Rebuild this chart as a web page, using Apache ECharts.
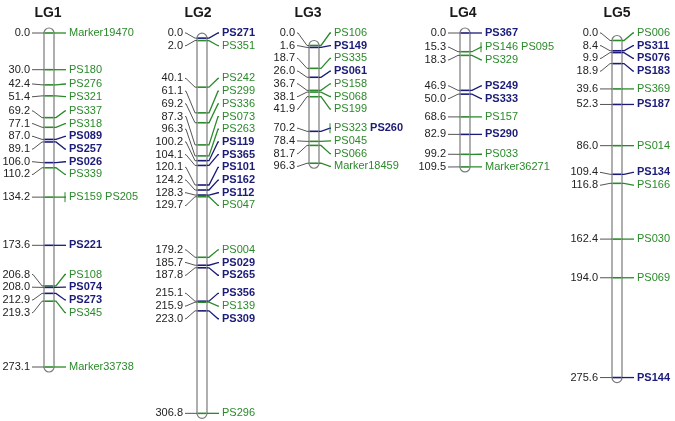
<!DOCTYPE html>
<html><head><meta charset="utf-8">
<script src="https://cdn.jsdelivr.net/npm/echarts@6/dist/echarts.min.js"></script>
<style>html,body{margin:0;padding:0;background:#fff;}#c{width:675px;height:421px;}</style>
</head><body><div id="c"></div>
<script>
// ---- data ----
const groupNames = ['LG1','LG2','LG3','LG4','LG5'];

const lg1Pos   = [0.0,30.0,42.4,51.4,69.2,77.1,87.0,89.1,106.0,110.2,134.2,134.2,173.6,206.8,208.0,212.9,219.3,273.1];
const lg1Names = ['Marker19470','PS180','PS276','PS321','PS337','PS318','PS089','PS257','PS026','PS339','PS159','PS205','PS221','PS108','PS074','PS273','PS345','Marker33738'];
const lg1Type  = ['g','g','g','g','g','g','b','b','b','g','g','g','b','g','b','b','g','g'];

const lg2Pos   = [0.0,2.0,40.1,61.1,69.2,87.3,96.3,100.2,104.1,120.1,124.2,128.3,129.7,179.2,185.7,187.8,215.1,215.9,223.0,306.8];
const lg2Names = ['PS271','PS351','PS242','PS299','PS336','PS073','PS263','PS119','PS365','PS101','PS162','PS112','PS047','PS004','PS029','PS265','PS356','PS139','PS309','PS296'];
const lg2Type  = ['b','g','g','g','g','g','g','b','b','b','b','b','g','g','b','b','b','g','b','g'];

const lg3Pos   = [0.0,1.6,18.7,26.0,36.7,38.1,41.9,70.2,70.2,78.4,81.7,96.3];
const lg3Names = ['PS106','PS149','PS335','PS061','PS158','PS068','PS199','PS323','PS260','PS045','PS066','Marker18459'];
const lg3Type  = ['g','b','g','b','g','g','g','g','b','g','g','g'];

const lg4Pos   = [0.0,15.3,15.3,18.3,46.9,50.0,68.6,82.9,99.2,109.5];
const lg4Names = ['PS367','PS146','PS095','PS329','PS249','PS333','PS157','PS290','PS033','Marker36271'];
const lg4Type  = ['b','g','g','g','b','b','g','b','g','g'];

const lg5Pos   = [0.0,8.4,9.9,18.9,39.6,52.3,86.0,109.4,116.8,162.4,194.0,275.6];
const lg5Names = ['PS006','PS311','PS076','PS183','PS369','PS187','PS014','PS134','PS166','PS030','PS069','PS144'];
const lg5Type  = ['g','b','b','b','g','b','g','b','g','g','g','b'];

// ---- layout / style ----
const allPos = [lg1Pos, lg2Pos, lg3Pos, lg4Pos, lg5Pos];
const allNames = [lg1Names, lg2Names, lg3Names, lg4Names, lg5Names];
const allType = [lg1Type, lg2Type, lg3Type, lg4Type, lg5Type];
const chromX = [49, 202, 314, 465, 617];
const titleX = [48, 198, 308, 463, 617];
const HALF_W = 5;
const LABEL_GAP = 12.7;
const LABEL_TOP = 33;
const GREEN = '#2b8a2b', BLUE = '#1b1b78';
const FONT = '"Liberation Sans", Arial, sans-serif';

function spread(ys, s, top) {
  const gs = ys.map((y, i) => ({a: i, b: i, start: y}));
  const place = g => { const c = (ys[g.a] + ys[g.b]) / 2; g.start = c - (g.b - g.a) / 2 * s; };
  let changed = true;
  while (changed) {
    changed = false;
    for (let k = 0; k < gs.length - 1; k++) {
      const A = gs[k], B = gs[k + 1];
      const endA = A.start + (A.b - A.a) * s;
      if (endA + s > B.start + 0.01) { A.b = B.b; place(A); gs.splice(k + 1, 1); changed = true; break; }
    }
  }
  const out = [];
  gs.forEach(g => { for (let j = g.a; j <= g.b; j++) out[j] = g.start + (j - g.a) * s; });
  const shift = Math.max(0, top - out[0]);
  return {labels: out.map(v => v + shift), shift};
}

function renderItem(params, api) {
  const i = api.value(0);
  const pos = allPos[i], names = allNames[i], types = allType[i];
  // merge markers at identical positions
  const uniq = [];
  pos.forEach((p, k) => {
    const last = uniq[uniq.length - 1];
    if (last && last.pos === p) { last.names.push(names[k]); last.types.push(types[k]); }
    else uniq.push({pos: p, names: [names[k]], types: [types[k]]});
  });
  const cx = api.coord([chromX[i], 0])[0];
  const rawY = uniq.map(u => api.coord([chromX[i], u.pos])[1]);
  const sp = spread(rawY, LABEL_GAP, LABEL_TOP);
  const markY = rawY.map(y => y + sp.shift);
  const L = cx - HALF_W, R = cx + HALF_W;
  const y0 = api.coord([chromX[i], 0])[1] + sp.shift;
  const yEnd = api.coord([chromX[i], pos[pos.length - 1]])[1] + sp.shift;
  const children = [];
  children.push({type: 'text', style: {x: titleX[i], y: 13, text: groupNames[i], align: 'center', verticalAlign: 'middle',
    font: 'bold 14px ' + FONT, fill: '#1a1a1a'}});
  children.push({type: 'rect', shape: {x: L, y: y0 - HALF_W, width: 2 * HALF_W, height: yEnd - y0 + 2 * HALF_W, r: HALF_W},
    style: {fill: '#fff', stroke: '#7a7a7a', lineWidth: 1.2}});
  uniq.forEach((u, k) => {
    const my = markY[k], ly = sp.labels[k];
    const col = u.types.indexOf('b') >= 0 ? BLUE : GREEN;
    children.push({type: 'line', shape: {x1: L + 0.5, y1: my, x2: R - 0.5, y2: my}, style: {stroke: col, lineWidth: 1.6}});
    children.push({type: 'polyline', shape: {points: [[L, my], [L - 2, my], [L - 11, ly], [L - 12, ly]]},
      style: {stroke: '#555', lineWidth: 1, fill: null}});
    children.push({type: 'text', style: {x: L - 14, y: ly, text: u.pos.toFixed(1), align: 'right', verticalAlign: 'middle',
      font: '11px ' + FONT, fill: '#222'}});
    const firstCol = u.types[0] === 'b' ? BLUE : GREEN;
    children.push({type: 'polyline', shape: {points: [[R, my], [R + 2, my], [R + 11, ly], [R + 12, ly]]},
      style: {stroke: col, lineWidth: 1.3, fill: null}});
    if (u.names.length > 1) {
      children.push({type: 'line', shape: {x1: R + 11, y1: ly - 5, x2: R + 11, y2: ly + 5}, style: {stroke: firstCol, lineWidth: 1}});
    }
    const txt = u.names.map((n, j) => '{' + u.types[j] + '|' + n + '}').join(' ');
    children.push({type: 'text', style: {x: R + 15, y: ly, text: txt, align: 'left', verticalAlign: 'middle',
      font: '11px ' + FONT,
      rich: {g: {fill: GREEN, font: '11px ' + FONT}, b: {fill: BLUE, font: 'bold 11px ' + FONT}}}});
  });
  return {type: 'group', children};
}

const chart = echarts.init(document.getElementById('c'), null, {renderer: 'canvas'});
chart.setOption({
  animation: false,
  grid: {left: 0, top: 33, width: 675, height: 310 * 1.223},
  xAxis: {type: 'value', min: 0, max: 675, show: false},
  yAxis: {type: 'value', min: 0, max: 310, inverse: true, show: false},
  series: [{type: 'custom', renderItem, clip: false, data: groupNames.map((n, i) => [i])}]
});
</script></body></html>
